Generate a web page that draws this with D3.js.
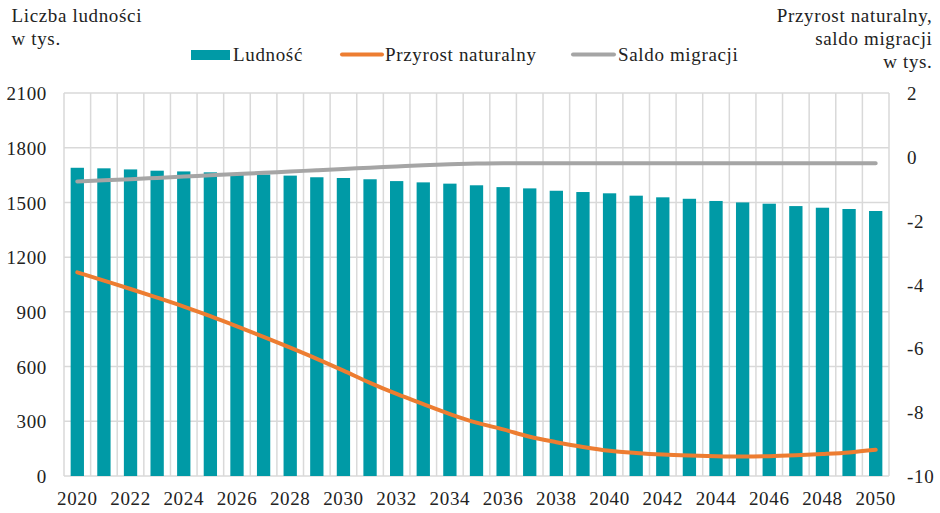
<!DOCTYPE html>
<html><head><meta charset="utf-8">
<script src="https://cdn.jsdelivr.net/npm/d3@7"></script>
<style>
html,body{margin:0;padding:0;background:#fff;}
</style></head>
<body><svg id="chart" width="940" height="513"></svg>
<script>
const years = d3.range(2020, 2051);
const ludnosc = [1690,1687,1681,1674,1670,1665,1660,1653,1647,1638,1634,1627,1617,1610,1603,1594,1584,1577,1564,1557,1550,1537,1528,1520,1508,1500,1493,1480,1471,1464,1453];
const przyrost = [-3.62,-3.88,-4.14,-4.41,-4.69,-4.99,-5.31,-5.64,-5.98,-6.33,-6.70,-7.08,-7.43,-7.75,-8.06,-8.33,-8.54,-8.77,-8.94,-9.09,-9.21,-9.28,-9.33,-9.36,-9.38,-9.39,-9.38,-9.35,-9.31,-9.26,-9.18];
const saldo = [-0.77,-0.73,-0.70,-0.66,-0.62,-0.58,-0.54,-0.50,-0.46,-0.42,-0.38,-0.34,-0.30,-0.26,-0.23,-0.21,-0.2,-0.2,-0.2,-0.2,-0.2,-0.2,-0.2,-0.2,-0.2,-0.2,-0.2,-0.2,-0.2,-0.2,-0.2];
const leftTicks = [0,300,600,900,1200,1500,1800,2100];
const rightTicks = [-10,-8,-6,-4,-2,0,2];
const xTickYears = years.filter(y => (y - 2020) % 2 === 0);
const legendItems = ["Ludność","Przyrost naturalny","Saldo migracji"];

const FONT = "'Liberation Serif', 'Times New Roman', Times";
const colTeal = "#009AA6", colOrange = "#ED7D31", colGray = "#A5A5A5", colGrid = "#D9D9D9", colText = "#222";
const L = 64, R = 889, T = 93, B = 476;
const svg = d3.select("#chart");

const x = d3.scaleBand().domain(years).range([L, R]).paddingInner(0.5).paddingOuter(0.25);
const step = x.step();
const yL = d3.scaleLinear().domain([0, 2100]).range([B, T]);
const yR = d3.scaleLinear().domain([-10, 2]).range([B, T]);

// gridlines
const g = svg.append("g");
g.selectAll(".hg").data(leftTicks).join("line")
  .attr("x1", L).attr("x2", R).attr("y1", d => yL(d)).attr("y2", d => yL(d))
  .attr("stroke", colGrid).attr("stroke-width", 1.5);
const bounds = years.map(d => x(d) + x.bandwidth()/2 - step/2).concat([R]);
g.selectAll(".vg").data(bounds).join("line")
  .attr("x1", d => d).attr("x2", d => d).attr("y1", T).attr("y2", B)
  .attr("stroke", colGrid).attr("stroke-width", 1.5);

// bars
svg.append("g").selectAll("rect").data(years).join("rect")
  .attr("x", d => x(d)).attr("width", x.bandwidth())
  .attr("y", (d,i) => yL(ludnosc[i])).attr("height", (d,i) => B - yL(ludnosc[i]))
  .attr("fill", colTeal);

// lines
const cx = d => x(d) + x.bandwidth()/2;
const lineP = d3.line().x((d,i) => cx(years[i])).y(d => yR(d)).curve(d3.curveMonotoneX);
svg.append("path").datum(saldo).attr("d", lineP).attr("fill","none")
  .attr("stroke", colGray).attr("stroke-width", 4).attr("stroke-linecap","round");
svg.append("path").datum(przyrost).attr("d", lineP).attr("fill","none")
  .attr("stroke", colOrange).attr("stroke-width", 4).attr("stroke-linecap","round");

const fs = "19px";
function styleText(sel){
  sel.attr("font-family", FONT).style("font-family", FONT).style("font-size", fs)
     .style("letter-spacing", "0.65px").attr("fill", colText);
}

// axes
const axL = svg.append("g").attr("transform", `translate(${L},0)`)
  .call(d3.axisLeft(yL).tickValues(leftTicks).tickSize(0).tickPadding(17).tickFormat(d3.format("d")));
axL.select(".domain").remove();
axL.attr("font-family", FONT);
axL.selectAll("text").call(styleText).attr("dy","0.35em");

const axR = svg.append("g").attr("transform", `translate(${R},0)`)
  .call(d3.axisRight(yR).tickValues(rightTicks).tickSize(0).tickPadding(18).tickFormat(d => d < 0 ? "-" + Math.abs(d) : d));
axR.select(".domain").remove();
axR.attr("font-family", FONT);
axR.selectAll("text").call(styleText).attr("dy","0.35em");

const axB = svg.append("g").attr("transform", `translate(0,${B})`)
  .call(d3.axisBottom(x).tickValues(xTickYears).tickSize(0).tickPadding(16));
axB.select(".domain").remove();
axB.attr("font-family", FONT);
axB.selectAll("text").call(styleText).attr("dy","0.71em");

// titles
const tl = svg.append("text").call(styleText);
tl.append("tspan").attr("x", 11.5).attr("y", 22).text("Liczba ludności");
tl.append("tspan").attr("x", 11.5).attr("y", 45).text("w tys.");
const tr = svg.append("text").call(styleText).attr("text-anchor","end");
tr.append("tspan").attr("x", 932.5).attr("y", 22).text("Przyrost naturalny,");
tr.append("tspan").attr("x", 932.5).attr("y", 45).text("saldo migracji");
tr.append("tspan").attr("x", 932.5).attr("y", 68).text("w tys.");

// legend
const lg = svg.append("g");
lg.append("rect").attr("x", 191).attr("y", 50).attr("width", 39).attr("height", 10).attr("fill", colTeal);
lg.append("text").attr("x", 233).attr("y", 61).call(styleText).text(legendItems[0]);
lg.append("line").attr("x1", 342).attr("x2", 382).attr("y1", 54.5).attr("y2", 54.5)
  .attr("stroke", colOrange).attr("stroke-width", 4).attr("stroke-linecap","round");
lg.append("text").attr("x", 385).attr("y", 61).call(styleText).text(legendItems[1]);
lg.append("line").attr("x1", 573).attr("x2", 614).attr("y1", 54.5).attr("y2", 54.5)
  .attr("stroke", colGray).attr("stroke-width", 4).attr("stroke-linecap","round");
lg.append("text").attr("x", 618).attr("y", 61).call(styleText).text(legendItems[2]);
</script></body></html>
